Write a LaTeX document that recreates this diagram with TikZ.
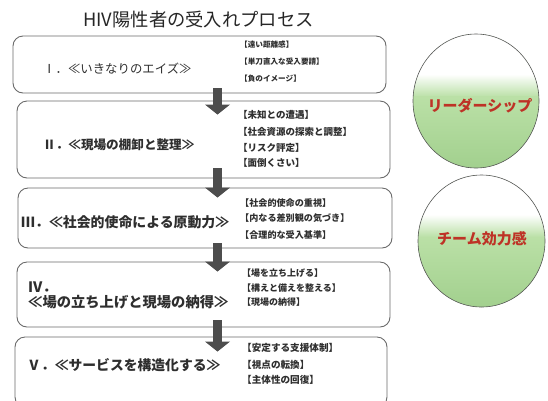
\documentclass[tikz,border=0pt]{standalone}
\usepackage{fontspec}
\setmainfont{Noto Sans CJK JP}
\usetikzlibrary{arrows.meta,calc,shapes.geometric}
\definecolor{boxline}{HTML}{6A6A6A}
\definecolor{arrowc}{HTML}{4D4D4D}
\definecolor{txt}{HTML}{2E2E2E}
\definecolor{gA}{RGB}{162,208,142}
\definecolor{gB}{RGB}{186,224,166}
\definecolor{redtxt}{RGB}{190,50,38}
\tikzset{
  procbox/.style={draw=boxline, line width=0.9pt, rounded corners=10pt, minimum width=373pt, inner sep=0pt},
  mainlbl/.style={anchor=west, font=\fontsize{13.5}{15}\selectfont\bfseries, text=txt, inner sep=0pt},
  sidelbl/.style={anchor=west, font=\fontsize{9.2}{11}\selectfont\bfseries, text=txt, inner sep=0pt},
  flowarrow/.style={draw=arrowc, line width=9pt, -{Triangle[width=25pt,length=10pt,line width=0pt]}},
  bubble/.style={ellipse, draw=gray!70!black, line width=0.6pt, fill=gA, inner sep=0pt,
    path picture={
      \coordinate (ppnw) at (path picture bounding box.north west);
      \coordinate (ppne) at (path picture bounding box.north east);
      \coordinate (ppsw) at (path picture bounding box.south west);
      \coordinate (ppse) at (path picture bounding box.south east);
      \fill[white] (ppnw) rectangle ($(ppne)!0.30!(ppse)$);
      \shade[top color=white, bottom color=gB] ($(ppnw)!0.30!(ppsw)$) rectangle ($(ppne)!0.47!(ppse)$);
      \shade[top color=gB, bottom color=gA] ($(ppnw)!0.47!(ppsw)$) rectangle (ppse);
    }},
  bubbletxt/.style={font=\fontsize{15}{17}\selectfont\bfseries, text=redtxt, inner sep=0pt}
}
\begin{document}
\begin{tikzpicture}[x=1pt,y=-1pt]
\useasboundingbox (0,0) rectangle (548,400);
\clip (0,0) rectangle (548,400);
% title
\node[font=\fontsize{18.3}{20}\selectfont, text=black!85, inner sep=0pt] (title) at (198.5,20) {HIV陽性者の受入れプロセス};
% boxes
\node[procbox, minimum height=57pt] (I) at (199.5,64.5) {};
\node[procbox, minimum height=77pt] (II) at (203.5,139.5) {};
\node[procbox, minimum height=60pt, minimum width=374pt] (III) at (205,218) {};
\node[procbox, minimum height=65pt] (IV) at (203.5,294.5) {};
\node[procbox, minimum height=70pt, minimum width=372pt] (V) at (201,372) {};
% main labels
\node[mainlbl, font=\fontsize{12.4}{14}\selectfont] (lI) at (43,69) {Ⅰ．≪いきなりのエイズ≫};
\node[mainlbl, font=\fontsize{12.6}{14}\selectfont\bfseries] (lII) at (43,145) {Ⅱ．≪現場の棚卸と整理≫};
\node[mainlbl, font=\fontsize{13.9}{15}\selectfont\bfseries] (lIII) at (21,222) {Ⅲ．≪社会的使命による原動力≫};
\node[mainlbl, font=\fontsize{14.3}{15}\selectfont\bfseries] (lIVa) at (28,287) {Ⅳ．};
\node[mainlbl, font=\fontsize{14.3}{15}\selectfont\bfseries] (lIVb) at (28,302) {≪場の立ち上げと現場の納得≫};
\node[mainlbl, font=\fontsize{13.8}{15}\selectfont\bfseries] (lV) at (27,365) {Ⅴ．≪サービスを構造化する≫};
% side labels
\node[sidelbl, font=\fontsize{7.6}{9}\selectfont\bfseries] (sI1) at (240,45) {【遠い距離感】};
\node[sidelbl, font=\fontsize{7.6}{9}\selectfont\bfseries] (sI2) at (240,62) {【単刀直入な受入要請】};
\node[sidelbl, font=\fontsize{7.6}{9}\selectfont\bfseries] (sI3) at (240,79) {【負のイメージ】};
\node[sidelbl, font=\fontsize{9.5}{11}\selectfont\bfseries] (sII1) at (238,115) {【未知との遭遇】};
\node[sidelbl, font=\fontsize{9.5}{11}\selectfont\bfseries] (sII2) at (238,132) {【社会資源の探索と調整】};
\node[sidelbl, font=\fontsize{9.5}{11}\selectfont\bfseries] (sII3) at (238,148) {【リスク評定】};
\node[sidelbl, font=\fontsize{9.5}{11}\selectfont\bfseries] (sII4) at (238,163) {【面倒くさい】};
\node[sidelbl, font=\fontsize{9.1}{11}\selectfont\bfseries] (sIII1) at (240,203) {【社会的使命の重視】};
\node[sidelbl, font=\fontsize{9.1}{11}\selectfont\bfseries] (sIII2) at (240,218) {【内なる差別観の気づき】};
\node[sidelbl, font=\fontsize{9.1}{11}\selectfont\bfseries] (sIII3) at (240,235) {【合理的な受入基準】};
\node[sidelbl, font=\fontsize{9.0}{11}\selectfont\bfseries] (sIV1) at (242,273) {【場を立ち上げる】};
\node[sidelbl, font=\fontsize{9.0}{11}\selectfont\bfseries] (sIV2) at (242,288) {【構えと備えを整える】};
\node[sidelbl, font=\fontsize{9.0}{11}\selectfont\bfseries] (sIV3) at (242,302) {【現場の納得】};
\node[sidelbl, font=\fontsize{9.6}{11}\selectfont\bfseries] (sV1) at (242,348) {【安定する支援体制】};
\node[sidelbl, font=\fontsize{9.6}{11}\selectfont\bfseries] (sV2) at (242,365) {【視点の転換】};
\node[sidelbl, font=\fontsize{9.6}{11}\selectfont\bfseries] (sV3) at (242,380) {【主体性の回復】};
% arrows
\coordinate (ax) at (217.5,0);
\draw[flowarrow] ($(ax |- I.south)+(0,-5)$) -- ($(ax |- II.north)+(0,14)$);
\draw[flowarrow] ($(ax |- II.south)+(0,-10)$) -- ($(ax |- III.north)+(0,10)$);
\draw[flowarrow] ($(ax |- III.south)+(0,-5)$) -- ($(ax |- IV.north)+(0,10)$);
\draw[flowarrow] ($(ax |- IV.south)+(0,-7)$) -- ($(ax |- V.north)+(0,15)$);
% bubbles
\node[bubble, minimum width=126pt, minimum height=134pt] (lead) at (476,101) {};
\node[bubbletxt] (leadtxt) at (480,106) {リーダーシップ};
\node[bubble, minimum width=127pt, minimum height=132pt] (team) at (481.5,241) {};
\node[bubbletxt] (teamtxt) at (482,239) {チーム効力感};
\end{tikzpicture}
\end{document}
